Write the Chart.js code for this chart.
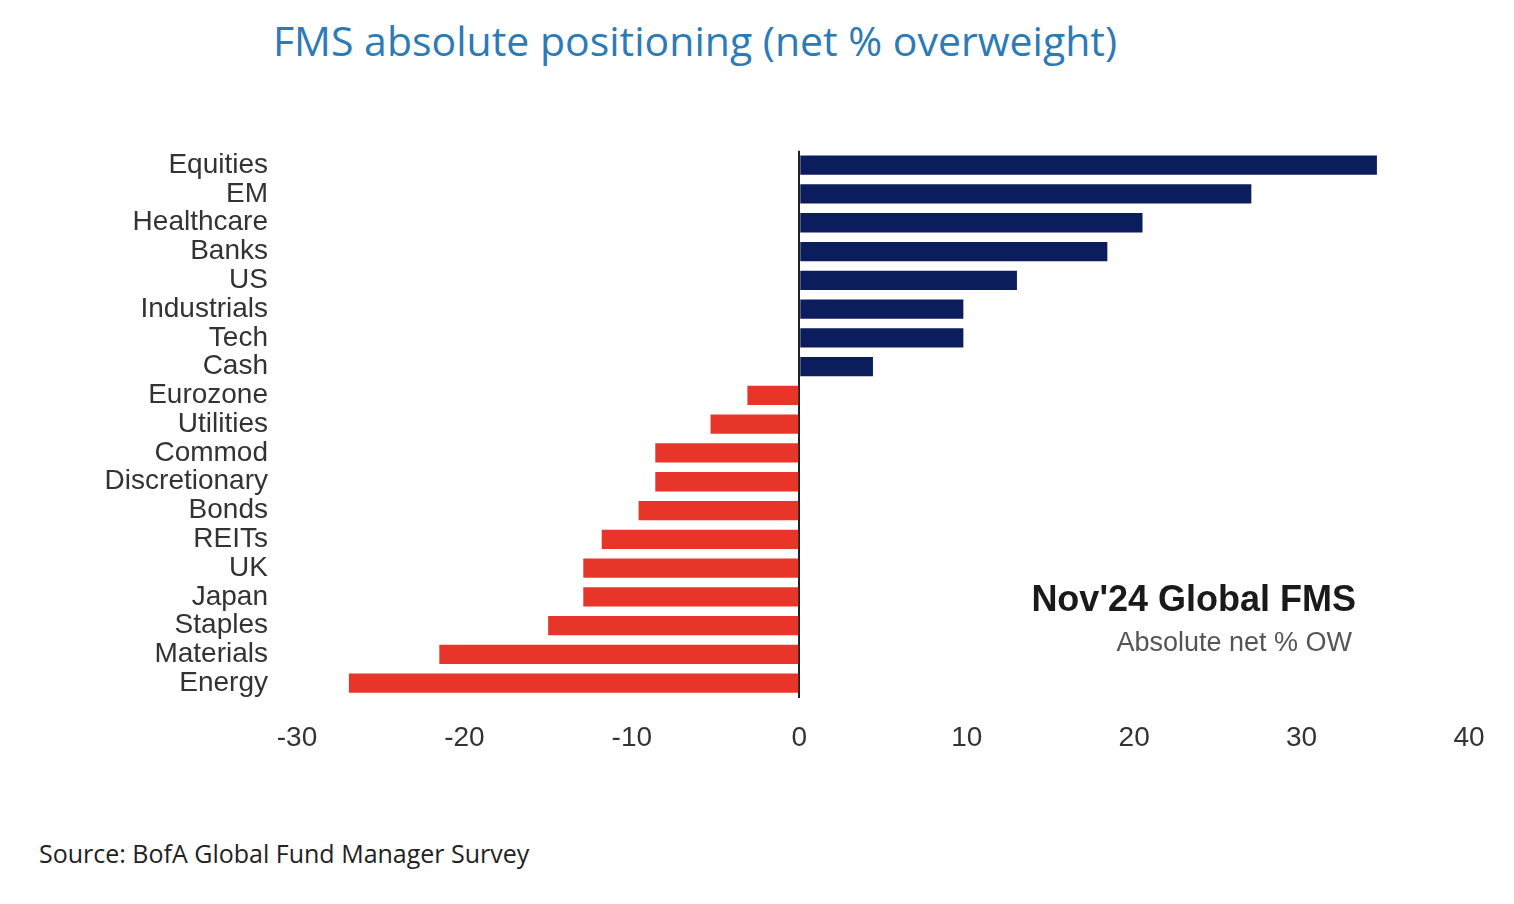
<!DOCTYPE html>
<html lang="en">
<head>
    <meta charset="UTF-8">
    <title>FMS absolute positioning</title>
    <script src="https://cdn.jsdelivr.net/npm/chart.js"></script>
    <style>
        body {
            margin: 0;
            padding: 0;
            background-color: #fff;
            width: 1514px;
            height: 904px;
            position: relative;
            overflow: hidden;
        }
        .title {
            position: absolute;
            left: 0;
            width: 1390px;
            top: 12px;
            text-align: center;
            font-family: "Open Sans", sans-serif;
            font-size: 41px;
            color: #2c7bb6;
        }
        .chart-box {
            position: absolute;
            left: 0;
            top: 105px;
            width: 1514px;
            height: 675px;
        }
        .note {
            position: absolute;
            right: 158px;
            text-align: right;
            font-family: "Liberation Sans", Arial, sans-serif;
        }
        .note.big {
            top: 578px;
            font-size: 36px;
            font-weight: bold;
            color: #1a1a1a;
        }
        .note.small {
            top: 627px;
            right: 162px;
            font-size: 27px;
            color: #555;
        }
        .source {
            position: absolute;
            left: 39px;
            top: 836px;
            font-family: "Open Sans", sans-serif;
            font-size: 25px;
            color: #222;
        }
    </style>
</head>
<body>
    <div class="title">FMS absolute positioning (net % overweight)</div>
    <div class="chart-box">
        <canvas id="fmsChart"></canvas>
    </div>
    <div class="note big">Nov'24 Global FMS</div>
    <div class="note small">Absolute net % OW</div>
    <div class="source">Source: BofA Global Fund Manager Survey</div>

    <script>
        const categories = ['Equities', 'EM', 'Healthcare', 'Banks', 'US', 'Industrials', 'Tech', 'Cash',
            'Eurozone', 'Utilities', 'Commod', 'Discretionary', 'Bonds', 'REITs', 'UK', 'Japan',
            'Staples', 'Materials', 'Energy'];
        const netOverweight = [34.5, 27.0, 20.5, 18.4, 13.0, 9.8, 9.8, 4.4,
            -3.1, -5.3, -8.6, -8.6, -9.6, -11.8, -12.9, -12.9, -15.0, -21.5, -26.9];
        const xTicks = [-30, -20, -10, 0, 10, 20, 30, 40];

        const NAVY = '#0c1d5e';
        const RED = '#e8352a';

        const ctx = document.getElementById('fmsChart').getContext('2d');
        const fmsChart = new Chart(ctx, {
            type: 'bar',
            data: {
                labels: categories,
                datasets: [{
                    data: netOverweight,
                    backgroundColor: netOverweight.map(v => v >= 0 ? NAVY : RED),
                    categoryPercentage: 1,
                    barPercentage: 0.67,
                }]
            },
            options: {
                indexAxis: 'y',
                responsive: true,
                maintainAspectRatio: false,
                animation: false,
                layout: { padding: { top: 15.6, right: 45, left: 0, bottom: 0 } },
                plugins: {
                    legend: { display: false },
                    tooltip: { enabled: false },
                },
                scales: {
                    x: {
                        min: -30,
                        max: 40,
                        afterBuildTicks: (scale) => {
                            scale.ticks = xTicks.map(v => ({ value: v }));
                        },
                        afterFit: (scale) => { scale.height = 82.4; },
                        border: { display: false },
                        grid: {
                            drawTicks: false,
                            color: (c) => c.tick && c.tick.value === 0 ? '#222' : 'rgba(0,0,0,0)',
                            lineWidth: 2,
                        },
                        ticks: {
                            padding: 24,
                            color: '#333',
                            font: { family: '"Liberation Sans", Arial, sans-serif', size: 28 },
                        },
                    },
                    y: {
                        afterFit: (scale) => { scale.width = 297; },
                        border: { display: false },
                        grid: { display: false, drawTicks: false },
                        ticks: {
                            padding: 29,
                            color: '#333',
                            autoSkip: false,
                            font: { family: '"Liberation Sans", Arial, sans-serif', size: 28 },
                        },
                    },
                },
            },
        });
    </script>
</body>
</html>
